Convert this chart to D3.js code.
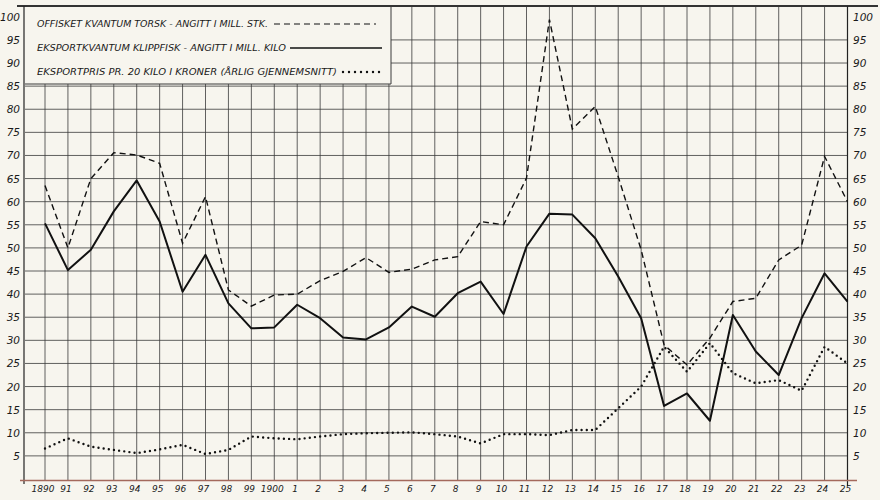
<!DOCTYPE html>
<html>
<head>
<meta charset="utf-8">
<script src="https://cdn.jsdelivr.net/npm/d3@7/dist/d3.min.js"></script>
<style>
  body { margin: 0; background: #f7f5ee; }
  svg { display: block; }
  text { font-family: "DejaVu Sans", sans-serif; font-style: italic; fill: #1a1a1a; }
</style>
</head>
<body>
<script>
var years = d3.range(1890, 1926);
var yearLabels = ['1890', '91', '92', '93', '94', '95', '96', '97', '98', '99',
                  '1900', '1', '2', '3', '4', '5', '6', '7', '8', '9',
                  '10', '11', '12', '13', '14', '15', '16', '17', '18', '19',
                  '20', '21', '22', '23', '24', '25'];
var yTicks = [5, 10, 15, 20, 25, 30, 35, 40, 45, 50, 55, 60, 65, 70, 75, 80, 85, 90, 95, 100];

// offisket kvantum torsk (mill. stk.)
var torsk = [63.5, 50, 65, 70.6, 70.1, 68.3, 51, 61.1, 40.9, 37.4,
             39.8, 40, 42.9, 44.9, 47.9, 44.7, 45.4, 47.4, 48.1, 55.7,
             55, 65.1, 99.4, 75.7, 80.6, 65.4, 49.6, 29, 24.7, 30.5,
             38.4, 39.1, 47.4, 50.6, 69.8, 60];
// eksportkvantum klippfisk (mill. kilo)
var klippfisk = [55.3, 45.2, 49.6, 57.9, 64.6, 55.7, 40.5, 48.5, 38, 32.6,
                 32.8, 37.7, 34.8, 30.6, 30.2, 32.8, 37.3, 35.1, 40.2, 42.7,
                 35.7, 50.3, 57.4, 57.2, 52.1, 43.8, 34.8, 15.8, 18.5, 12.6,
                 35.5, 27.6, 22.5, 34.8, 44.5, 38.4];
// eksportpris pr. 20 kilo (kroner)
var pris = [6.6, 8.8, 7, 6.3, 5.6, 6.4, 7.4, 5.4, 6.3, 9.2,
            8.8, 8.6, 9.2, 9.7, 9.9, 10, 10.1, 9.7, 9.2, 7.7,
            9.7, 9.7, 9.5, 10.6, 10.6, 15.3, 20, 28.6, 23.2, 29.4,
            22.9, 20.7, 21.4, 19.1, 28.6, 25];

var legendLabels = ['OFFISKET  KVANTUM  TORSK  -  ANGITT  I  MILL.  STK.',
                    'EKSPORTKVANTUM  KLIPPFISK  -  ANGITT  I  MILL.  KILO',
                    'EKSPORTPRIS  PR.  20 KILO  I  KRONER (ÅRLIG  GJENNEMSNITT)'];

var svg = d3.select('body').append('svg')
    .attr('width', 880)
    .attr('height', 500);

var x = d3.scaleLinear().domain([1890, 1925]).range([45, 847.5]);
var y = d3.scaleLinear().domain([0, 100]).range([479, 16.8]);

var ink = '#3a3a3a';
var legendBox = { x0: 25, x1: 391, y0: 6, y1: 84 };

// horizontal grid
svg.append('g').selectAll('line')
    .data(yTicks.filter(function(d) { return d < 100; }))
    .enter().append('line')
    .attr('x1', function(d) { return y(d) < legendBox.y1 ? legendBox.x1 : legendBox.x0; })
    .attr('x2', x(1925))
    .attr('y1', function(d) { return y(d); })
    .attr('y2', function(d) { return y(d); })
    .attr('stroke', ink)
    .attr('stroke-width', 0.8);

// vertical grid
svg.append('g').selectAll('line')
    .data(years.slice(0, -1))
    .enter().append('line')
    .attr('x1', function(d) { return x(d); })
    .attr('x2', function(d) { return x(d); })
    .attr('y1', function(d) { return x(d) < legendBox.x1 ? legendBox.y1 : legendBox.y0; })
    .attr('y2', 480)
    .attr('stroke', ink)
    .attr('stroke-width', 0.8);

// legend box frame
svg.append('line').attr('x1', legendBox.x1).attr('x2', legendBox.x1)
    .attr('y1', legendBox.y0).attr('y2', legendBox.y1)
    .attr('stroke', ink).attr('stroke-width', 1);
svg.append('line').attr('x1', legendBox.x0).attr('x2', legendBox.x1)
    .attr('y1', legendBox.y1).attr('y2', legendBox.y1)
    .attr('stroke', ink).attr('stroke-width', 1);

// frame: top, left, right, bottom
svg.append('line').attr('x1', 17).attr('x2', 878).attr('y1', 6).attr('y2', 6)
    .attr('stroke', '#333').attr('stroke-width', 2);
svg.append('line').attr('x1', 24).attr('x2', 24).attr('y1', 6).attr('y2', 484)
    .attr('stroke', '#222').attr('stroke-width', 1.2);
svg.append('line').attr('x1', x(1925)).attr('x2', x(1925)).attr('y1', 6).attr('y2', 486)
    .attr('stroke', '#222').attr('stroke-width', 1.2);
svg.append('line').attr('x1', 20).attr('x2', 857).attr('y1', 480.5).attr('y2', 480.5)
    .attr('stroke', '#a4695c').attr('stroke-width', 1.4);

// y tick labels both sides
svg.append('g').selectAll('text')
    .data(yTicks)
    .enter().append('text')
    .attr('x', 20)
    .attr('y', function(d) { return y(d) + 4; })
    .attr('text-anchor', 'end')
    .attr('font-size', 10.5)
    .text(function(d) { return d; });
svg.append('g').selectAll('text')
    .data(yTicks)
    .enter().append('text')
    .attr('x', 853)
    .attr('y', function(d) { return y(d) + 4; })
    .attr('text-anchor', 'start')
    .attr('font-size', 10.5)
    .text(function(d) { return d; });

// x tick labels
svg.append('g').selectAll('text')
    .data(years)
    .enter().append('text')
    .attr('x', function(d) { return x(d) - 2; })
    .attr('y', 492)
    .attr('text-anchor', 'middle')
    .attr('font-size', 9)
    .text(function(d, i) { return yearLabels[i]; });

// series
var line = d3.line()
    .x(function(d, i) { return x(years[i]); })
    .y(function(d) { return y(d); });

svg.append('path').datum(torsk)
    .attr('d', line)
    .attr('fill', 'none')
    .attr('stroke', '#111')
    .attr('stroke-width', 1.4)
    .attr('stroke-dasharray', '6,4');

svg.append('path').datum(klippfisk)
    .attr('d', line)
    .attr('fill', 'none')
    .attr('stroke', '#111')
    .attr('stroke-width', 2)
    .attr('stroke-linejoin', 'round');

svg.append('path').datum(pris)
    .attr('d', line)
    .attr('fill', 'none')
    .attr('stroke', '#111')
    .attr('stroke-width', 2.4)
    .attr('stroke-linecap', 'round')
    .attr('stroke-dasharray', '0,5.2');

// legend
var legendRows = [
    { y: 24, textEnd: 268, x1: 274, x2: 376, dash: '6,4', w: 1.2, cap: 'butt' },
    { y: 48, textEnd: 286, x1: 290, x2: 382, dash: null, w: 1.6, cap: 'butt' },
    { y: 72, textEnd: 337, x1: 343, x2: 382, dash: '0,6', w: 2.4, cap: 'round' }
];

legendRows.forEach(function(r, i) {
    svg.append('text')
        .attr('x', 37)
        .attr('y', r.y + 3)
        .attr('font-size', 8)
        .attr('textLength', r.textEnd - 37)
        .attr('lengthAdjust', 'spacingAndGlyphs')
        .text(legendLabels[i]);
    svg.append('line')
        .attr('x1', r.x1).attr('x2', r.x2)
        .attr('y1', r.y).attr('y2', r.y)
        .attr('stroke', '#111')
        .attr('stroke-width', r.w)
        .attr('stroke-linecap', r.cap)
        .attr('stroke-dasharray', r.dash);
});
</script>
</body>
</html>
